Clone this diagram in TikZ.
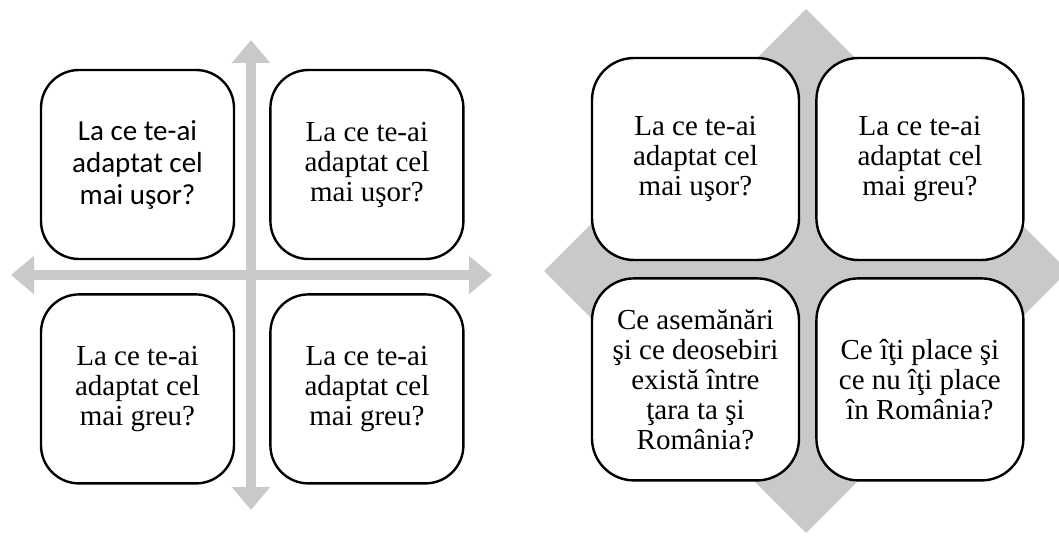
\documentclass[tikz,border=0pt]{standalone}
\usepackage{fontspec}
\setmainfont{Liberation Serif}
\newfontfamily\calibri{Carlito}
\usepackage{tikz}
\usetikzlibrary{arrows.meta, positioning}

\definecolor{axisgray}{RGB}{201,201,201}

\begin{document}
\begin{tikzpicture}[x=0.5pt, y=-0.5pt,
    every node/.style={align=center, font=\fontsize{14.5pt}{15pt}\selectfont},
    qbox/.style={draw, line width=1.2pt, fill=white, rounded corners=19pt,
        minimum width=96.5pt, minimum height=94.5pt, inner sep=2pt},
    sbox/.style={qbox, rounded corners=21pt,
        minimum width=103.5pt, minimum height=101pt},
    axisarrow/.style={draw=axisgray, line width=5pt,
        {Triangle[width=18.5pt, length=11.5pt]}-{Triangle[width=18.5pt, length=11.5pt]}}
    ]
    \useasboundingbox (0,0) rectangle (1059,535);

    % left: two crossing arrows
    \coordinate (vtop) at (251,40);
    \coordinate (vbot) at (251,510);
    \coordinate (hleft) at (11,275);
    \coordinate (hright) at (492,275);
    \draw [axisarrow] (vtop) -- (vbot);
    \draw [axisarrow] (hleft) -- (hright);

    \node [qbox, font=\calibri\fontsize{14.5pt}{16pt}\selectfont] (l1) at (137.5,164.5) {La ce te-ai\\ adaptat cel\\ mai uşor?};
    \node [qbox, right=17pt of l1] (l2) {La ce te-ai\\ adaptat cel\\ mai uşor?};
    \node [qbox, below=16.5pt of l1] (l3) {La ce te-ai\\ adaptat cel\\ mai greu?};
    \node [qbox, below=16.5pt of l2] (l4) {La ce te-ai\\ adaptat cel\\ mai greu?};

    % right: diamond behind four boxes
    \fill [axisgray] (806,9) -- (1068,271) -- (806,533) -- (544,271) -- cycle;

    \node [sbox] (r1) at (695.5,159) {La ce te-ai\\ adaptat cel\\ mai uşor?};
    \node [sbox, right=7.5pt of r1] (r2) {La ce te-ai\\ adaptat cel\\ mai greu?};
    \node [sbox, below=8pt of r1] (r3) {Ce asemănări\\ şi ce deosebiri\\ există între\\ ţara ta şi\\ România?};
    \node [sbox, below=8pt of r2] (r4) {Ce îţi place şi\\ ce nu îţi place\\ în România?};

\end{tikzpicture}
\end{document}
